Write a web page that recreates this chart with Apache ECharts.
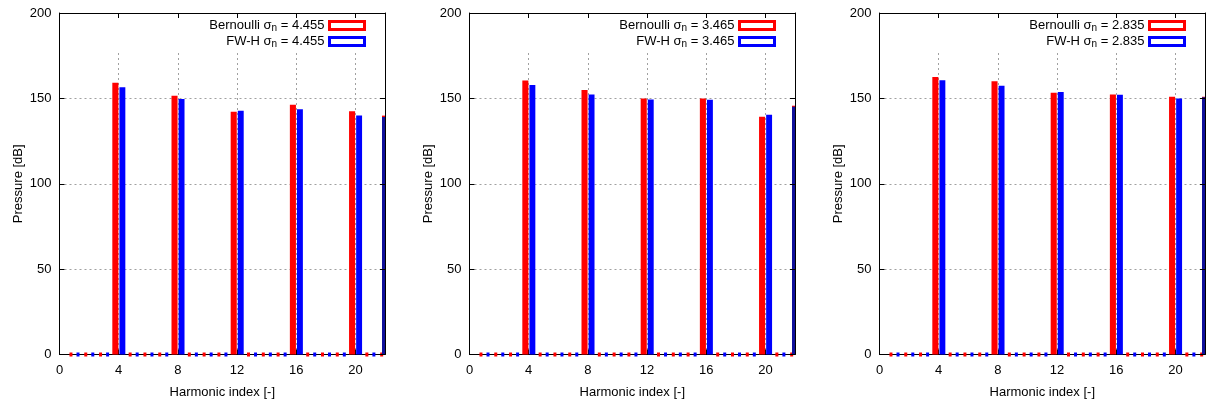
<!DOCTYPE html>
<html>
<head>
<meta charset="utf-8">
<script src="https://cdn.jsdelivr.net/npm/echarts@6/dist/echarts.min.js"></script>
<style>
html,body{margin:0;padding:0;background:#fff;}
#c{width:1210px;height:405px;}
</style>
</head>
<body>
<div id="c"></div>
<script>
// ---- data ----
const harmonics = [1,2,3,4,5,6,7,8,9,10,11,12,13,14,15,16,17,18,19,20,21,22,23,24];
const sigmaLabels = ['4.455','3.465','2.835'];
const bernoulli1 = [0,0,0,159.2,0,0,0,151.6,0,0,0,142.2,0,0,0,146.3,0,0,0,142.4,0,0,0,139.9];
const fwh1       = [0,0,0,156.5,0,0,0,149.7,0,0,0,142.8,0,0,0,143.6,0,0,0,139.9,0,0,0,139.1];
const bernoulli2 = [0,0,0,160.4,0,0,0,154.9,0,0,0,150.0,0,0,0,150.0,0,0,0,139.3,0,0,0,145.7];
const fwh2       = [0,0,0,157.9,0,0,0,152.3,0,0,0,149.4,0,0,0,149.2,0,0,0,140.4,0,0,0,145.1];
const bernoulli3 = [0,0,0,162.5,0,0,0,160.0,0,0,0,153.3,0,0,0,152.3,0,0,0,151.0,0,0,0,151.0];
const fwh3       = [0,0,0,160.6,0,0,0,157.4,0,0,0,153.7,0,0,0,152.1,0,0,0,150.0,0,0,0,150.7];
const xTicks = [0,4,8,12,16,20];
const yTicks = [0,50,100,150,200];

const bernData = [bernoulli1, bernoulli2, bernoulli3];
const fwhData = [fwh1, fwh2, fwh3];

// ---- layout ----
const FONT = 'Liberation Sans, Arial, Helvetica, sans-serif';
const panelLeft = [59.5, 469.5, 879.5];
const gridW = 325.5, gridTop = 13, gridH = 341.5;

function makeRender(lo, hi, color, clampColor){
  return function(params, api){
    const h = api.value(0), v = api.value(1);
    const cs = params.coordSys;
    const xmin = cs.x, xmax = cs.x + cs.width;
    const base = api.coord([h + lo, 0]);
    if (v <= 0) {
      const c = api.coord([h + (lo+hi)/2, 0]);
      if (c[0] > xmax || c[0] < xmin) return null;
      return {type:'rect', shape:{x:c[0]-1.5, y:c[1]-2, width:3, height:4}, style:{fill:color}};
    }
    const top = api.coord([h + hi, v]);
    let x0 = Math.max(xmin, Math.min(xmax, base[0]));
    let x1 = Math.max(xmin, Math.min(xmax, top[0]));
    let fill = color;
    if (x1 - x0 < 3) { x0 = x1 - 3; fill = clampColor; }
    return {type:'rect', shape:{x:x0, y:top[1], width:x1-x0, height:base[1]-top[1]}, style:{fill:fill}};
  };
}

const grids = [], xAxes = [], yAxes = [], series = [], legends = [], graphics = [];
const textStyle = {fontFamily: FONT, fontSize: 13, color: '#000'};
const legendRight = [839, 429, 19];
const lineSt = {show:true, onZero:false, lineStyle:{color:'#000', width:1}};

for (let i = 0; i < 3; i++) {
  grids.push({left: panelLeft[i], top: gridTop, width: gridW, height: gridH, containLabel: false});
  xAxes.push({
    type:'value', gridIndex:i, min:0, max:22, interval:4, position:'bottom',
    name:'Harmonic index [-]', nameLocation:'middle', nameGap:31,
    nameTextStyle: textStyle,
    axisLine: lineSt,
    axisTick:{show:true, inside:true, length:5, lineStyle:{color:'#000'}},
    axisLabel:{show:true, margin:9, fontFamily:FONT, fontSize:13, color:'#000', showMaxLabel:false, showMinLabel:true},
    splitLine:{show:true, lineStyle:{color:'#a0a0a0', type:[2,3], width:1}}
  });
  xAxes.push({
    type:'value', gridIndex:i, min:0, max:22, interval:4, position:'top', z:10,
    axisLine: lineSt,
    axisTick:{show:true, inside:true, length:5, lineStyle:{color:'#000'}},
    axisLabel:{show:false}, splitLine:{show:false}
  });
  yAxes.push({
    type:'value', gridIndex:i, min:0, max:200, interval:50, position:'left',
    name:'Pressure [dB]', nameLocation:'middle', nameGap:35,
    nameTextStyle: textStyle,
    axisLine: lineSt,
    axisTick:{show:true, inside:true, length:5, lineStyle:{color:'#000'}},
    axisLabel:{show:true, margin:8, fontFamily:FONT, fontSize:13, color:'#000'},
    splitLine:{show:true, lineStyle:{color:'#a0a0a0', type:[2,3], width:1}}
  });
  yAxes.push({
    type:'value', gridIndex:i, min:0, max:200, interval:50, position:'right', z:10,
    axisLine: lineSt,
    axisTick:{show:true, inside:true, length:5, lineStyle:{color:'#000'}},
    axisLabel:{show:false}, splitLine:{show:false}
  });
  const bName = 'Bernoulli σ{sub|n} = ' + sigmaLabels[i];
  const fName = 'FW-H σ{sub|n} = ' + sigmaLabels[i];
  const bn = 'B' + i, fn = 'F' + i;
  series.push({
    type:'custom', name:bn, xAxisIndex:2*i, yAxisIndex:2*i, z:3,
    renderItem: makeRender(-0.43, -0.02, '#ff0000', '#ff0000'),
    itemStyle:{color:'#ff0000'},
    encode:{x:0, y:1},
    data: harmonics.map((h, k) => [h, bernData[i][k]])
  });
  series.push({
    type:'custom', name:fn, xAxisIndex:2*i, yAxisIndex:2*i, z:4,
    renderItem: makeRender(0.05, 0.45, '#0000ff', '#10109a'),
    itemStyle:{color:'#0000ff'},
    encode:{x:0, y:1},
    data: harmonics.map((h, k) => [h, fwhData[i][k]])
  });
  const labelMap = {}; labelMap[bn] = bName; labelMap[fn] = fName;
  legends.push({
    data:[
      {name:bn, itemStyle:{color:'#fff', borderColor:'#ff0000', borderWidth:3}},
      {name:fn, itemStyle:{color:'#fff', borderColor:'#0000ff', borderWidth:3}}
    ],
    orient:'vertical', right: legendRight[i], top: 13, align:'right',
    itemWidth:35, itemHeight:8, itemGap:1, icon:'rect', z:20,
    selectedMode:false,
    formatter: (n) => labelMap[n],
    textStyle:{fontFamily:FONT, fontSize:13, color:'#000', lineHeight:15, padding:[0,0,0,2],
      rich:{sub:{fontFamily:FONT, fontSize:10, color:'#000', lineHeight:10, padding:[5,0,0,0]}}}
  });
  graphics.push({
    type:'rect', z:5,
    shape:{x: panelLeft[i] + 1, y: gridTop + 1, width: gridW - 2, height: 36},
    style:{fill:'#fff'}
  });
}

const chart = echarts.init(document.getElementById('c'), null, {renderer:'canvas'});
chart.setOption({
  animation:false,
  backgroundColor:'#fff',
  textStyle:{fontFamily:FONT},
  grid: grids, xAxis: xAxes, yAxis: yAxes, series: series, legend: legends,
  graphic: graphics
});
</script>
</body>
</html>
